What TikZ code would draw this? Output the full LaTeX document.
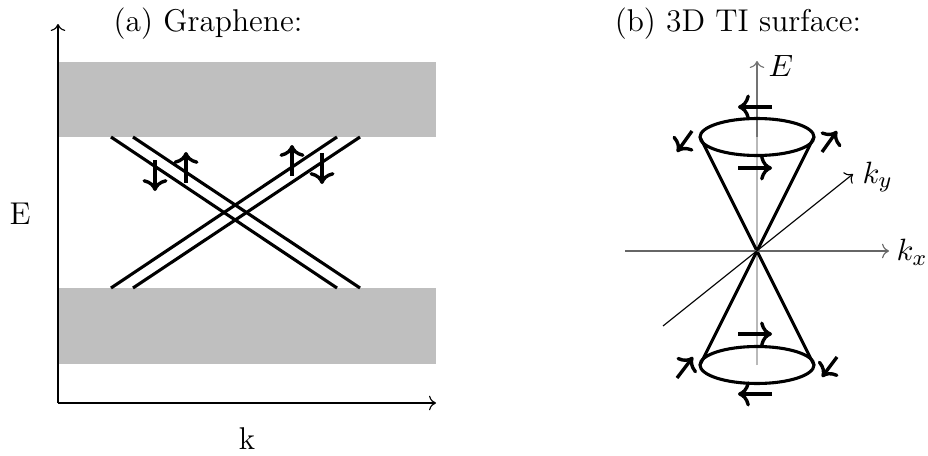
\documentclass[tikz,border=0pt]{standalone}
\usepackage{tikz}
\usetikzlibrary{arrows,arrows.meta,positioning}

\begin{document}
\begin{tikzpicture}[
    x=0.0125cm, y=-0.0125cm,
    axis/.style={thin, ->},
    band/.style={fill=black!25, draw=none},
    disp/.style={line width=1.1pt},
    spin/.style={line width=1.2pt, ->},
    cone/.style={line width=1.1pt, fill=white, fill opacity=0.5},
    lbl/.style={font=\fontsize{11.2}{13}\selectfont, inner sep=0pt}
  ]
    \useasboundingbox (0,0) rectangle (928,456);

    % (a) graphene
    \node[lbl] (titleA) at (208,24) {(a) Graphene:};
    \fill[band] (58,62) rectangle (436,137);
    \fill[band] (58,288) rectangle (436,364);
    \coordinate (orgA) at (58,403);
    \coordinate (topA) at (58,24);
    \coordinate (endA) at (436,403);
    \draw[axis] (orgA) -- (topA);
    \draw[axis] (orgA) -- (endA);
    \node[lbl] (labE) at (20,214) {E};
    \node[lbl] (labk) at (247,439) {k};

    \draw[disp] (111,137) -- (337,288);
    \draw[disp] (133,137) -- (360,288);
    \draw[disp] (111,288) -- (337,137);
    \draw[disp] (133,288) -- (360,137);

    \draw[spin] (155,160) -- (155,191);
    \draw[spin] (186,183) -- (186,152);
    \draw[spin] (292,176) -- (292,145);
    \draw[spin] (322,153) -- (322,184);

    % (b) 3D TI surface
    \node[lbl] (titleB) at (738,24) {(b) 3D TI surface:};
    \coordinate (ctr) at (757,251);
    \coordinate (Etop) at (757,61);
    \coordinate (Ebot) at (757,365);
    \draw[axis, black!55] (Ebot) -- (Etop);
    \node[lbl, anchor=west] (labEb) at (768,66) {$E$};

    \draw[cone] (700,137) -- (ctr) -- (814,137);
    \draw[cone] (700,365) -- (ctr) -- (814,365);
    \draw[line width=1.1pt] (757,137) ellipse [x radius=57, y radius=18.5];
    \draw[line width=1.1pt] (757,365) ellipse [x radius=57, y radius=18.5];

    \draw[axis, black!60] (625,251) -- (889,251);
    \node[lbl, anchor=west] (labkx) at (896,252) {$k_x$};
    \draw[axis] (663,326) -- (853,174);
    \node[lbl, anchor=west] (labky) at (862,177) {$k_y$};

    \draw[spin] (772,107) -- (738,107);
    \draw[spin] (738,168) -- (772,168);
    \draw[spin] (692,131) -- (677,152);
    \draw[spin] (822,152) -- (837,131);

    \draw[spin] (738,334) -- (772,334);
    \draw[spin] (772,394) -- (738,394);
    \draw[spin] (677,378) -- (693,357);
    \draw[spin] (837,357) -- (822,377);
  \end{tikzpicture}
\end{document}
